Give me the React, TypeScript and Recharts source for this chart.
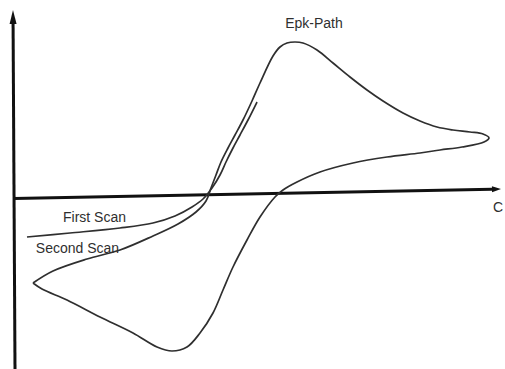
import React from "react";
import { LineChart, Line, XAxis, YAxis, ReferenceLine, ReferenceDot } from "recharts";

// Potential (E) and current (I) of the first, partial sweep
const firstScanE = [0.13, 0.56, 1.06, 1.39, 1.61, 1.78, 1.89, 1.98, 2.06, 2.12, 2.19, 2.26, 2.34, 2.43];
const firstScanI = [-0.39, -0.35, -0.3, -0.25, -0.18, -0.09, -0.01, 0.1, 0.23, 0.36, 0.5, 0.63, 0.78, 0.96];

// Full cyclic sweep: forward branch, anodic peak, switching point, reverse branch, cathodic peak
const secondScanE = [
  0.19, 0.39, 0.73, 1.06, 1.39, 1.64, 1.82, 1.92, 1.97, 2.02, 2.07, 2.14, 2.21, 2.29, 2.38, 2.46, 2.59,
  2.66, 2.73, 2.81, 2.89, 3.03, 3.19, 3.36, 3.53, 3.69, 3.89, 4.06, 4.23, 4.39, 4.56, 4.69, 4.75, 4.7,
  4.48, 4.26, 4.06, 3.73, 3.39, 3.06, 2.83, 2.69, 2.61, 2.46, 2.33, 2.19, 2.09, 1.99, 1.86, 1.73, 1.58,
  1.43, 1.19, 0.86, 0.53, 0.28, 0.19,
];
const secondScanI = [
  -0.85, -0.73, -0.61, -0.52, -0.38, -0.26, -0.14, -0.03, 0.1, 0.23, 0.36, 0.5, 0.63, 0.78, 0.97, 1.15, 1.42,
  1.51, 1.55, 1.56, 1.55, 1.48, 1.35, 1.21, 1.08, 0.97, 0.85, 0.77, 0.71, 0.68, 0.66, 0.64, 0.6, 0.56,
  0.51, 0.48, 0.45, 0.41, 0.35, 0.26, 0.16, 0.08, 0.01, -0.19, -0.42, -0.69, -0.92, -1.15, -1.35, -1.49, -1.53,
  -1.49, -1.35, -1.19, -1.02, -0.91, -0.85,
];

// Text annotations
const peakLabel = "Epk-Path";
const firstScanLabel = "First Scan";
const secondScanLabel = "Second Scan";
const axisLabel = "C";

const zip = (e: number[], i: number[]) => e.map((x, k) => ({ E: x, I: i[k] }));
const firstScan = zip(firstScanE, firstScanI);
const secondScan = zip(secondScanE, secondScanI);

const INK = "#2f2f2f";
const FONT = "'Liberation Sans', Arial, sans-serif";

// Centripetal Catmull-Rom curve: passes through every point without overshooting,
// and handles the closed, non-monotonic sweep loop.
function catmullRomCurve(context: any) {
  let pts: [number, number][] = [];
  const alpha = 0.5;
  const dist = (a: [number, number], b: [number, number]) => Math.hypot(b[0] - a[0], b[1] - a[1]);
  return {
    areaStart() {},
    areaEnd() {},
    lineStart() {
      pts = [];
    },
    point(x: number, y: number) {
      pts.push([+x, +y]);
    },
    lineEnd() {
      const n = pts.length;
      if (!n) return;
      context.moveTo(pts[0][0], pts[0][1]);
      for (let i = 0; i < n - 1; i++) {
        const p0 = pts[Math.max(i - 1, 0)];
        const p1 = pts[i];
        const p2 = pts[i + 1];
        const p3 = pts[Math.min(i + 2, n - 1)];
        const l01a = Math.pow(dist(p0, p1), alpha);
        const l12a = Math.pow(dist(p1, p2), alpha);
        const l23a = Math.pow(dist(p2, p3), alpha);
        const l01_2a = l01a * l01a;
        const l12_2a = l12a * l12a;
        const l23_2a = l23a * l23a;
        let c1x = p1[0];
        let c1y = p1[1];
        let c2x = p2[0];
        let c2y = p2[1];
        if (l01a > 1e-9) {
          const a = 2 * l01_2a + 3 * l01a * l12a + l12_2a;
          const m = 3 * l01a * (l01a + l12a);
          c1x = (p1[0] * a - p0[0] * l12_2a + p2[0] * l01_2a) / m;
          c1y = (p1[1] * a - p0[1] * l12_2a + p2[1] * l01_2a) / m;
        }
        if (l23a > 1e-9) {
          const b = 2 * l23_2a + 3 * l23a * l12a + l12_2a;
          const m = 3 * l23a * (l23a + l12a);
          c2x = (p2[0] * b + p1[0] * l23_2a - p3[0] * l12_2a) / m;
          c2y = (p2[1] * b + p1[1] * l23_2a - p3[1] * l12_2a) / m;
        }
        context.bezierCurveTo(c1x, c1y, c2x, c2y, p2[0], p2[1]);
      }
    },
  };
}

// Axis line with a filled arrowhead at its second end
function arrowShape(headLen: number, headHalf: number) {
  return (p: any) => {
    const { x1, y1, x2, y2 } = p;
    const dx = x2 - x1;
    const dy = y2 - y1;
    const len = Math.hypot(dx, dy) || 1;
    const ux = dx / len;
    const uy = dy / len;
    const bx = x2 - ux * headLen;
    const by = y2 - uy * headLen;
    const px = -uy * headHalf;
    const py = ux * headHalf;
    return (
      <g>
        <line x1={x1} y1={y1} x2={bx} y2={by} stroke="#111" strokeWidth={3} />
        <polygon
          points={`${x2},${y2} ${bx + px},${by + py} ${bx - px},${by - py}`}
          fill="#111"
        />
      </g>
    );
  };
}

const textLabel = (value: string) => ({
  value,
  position: "center" as const,
  fill: INK,
  fontSize: 14,
  fontFamily: FONT,
});

export default function App() {
  return (
    <div style={{ position: "absolute", left: 0, top: 0, background: "#fff" }}>
      <LineChart width={505} height={369} margin={{ top: 0, right: 0, bottom: 0, left: 0 }}>
        <XAxis type="number" dataKey="E" domain={[-0.14, 4.91]} allowDataOverflow hide />
        <YAxis type="number" dataKey="I" domain={[-1.71, 1.98]} allowDataOverflow hide />

        <ReferenceLine
          ifOverflow="visible"
          segment={[
            { x: 0.01, y: -1.71 },
            { x: -0.01, y: 1.88 },
          ]}
          shape={arrowShape(14, 3.5)}
        />
        <ReferenceLine
          ifOverflow="visible"
          segment={[
            { x: 0, y: -0.005 },
            { x: 4.87, y: 0.09 },
          ]}
          shape={arrowShape(9, 3)}
        />

        <Line
          data={firstScan}
          dataKey="I"
          type={catmullRomCurve as any}
          stroke={INK}
          strokeWidth={1.7}
          dot={false}
          activeDot={false}
          isAnimationActive={false}
        />
        <Line
          data={secondScan}
          dataKey="I"
          type={catmullRomCurve as any}
          stroke={INK}
          strokeWidth={1.7}
          dot={false}
          activeDot={false}
          isAnimationActive={false}
        />

        <ReferenceDot x={3.0} y={1.75} r={0} ifOverflow="visible" label={textLabel(peakLabel)} />
        <ReferenceDot x={0.805} y={-0.19} r={0} ifOverflow="visible" label={textLabel(firstScanLabel)} />
        <ReferenceDot x={0.635} y={-0.5} r={0} ifOverflow="visible" label={textLabel(secondScanLabel)} />
        <ReferenceDot x={4.84} y={-0.09} r={0} ifOverflow="visible" label={textLabel(axisLabel)} />
      </LineChart>
    </div>
  );
}
